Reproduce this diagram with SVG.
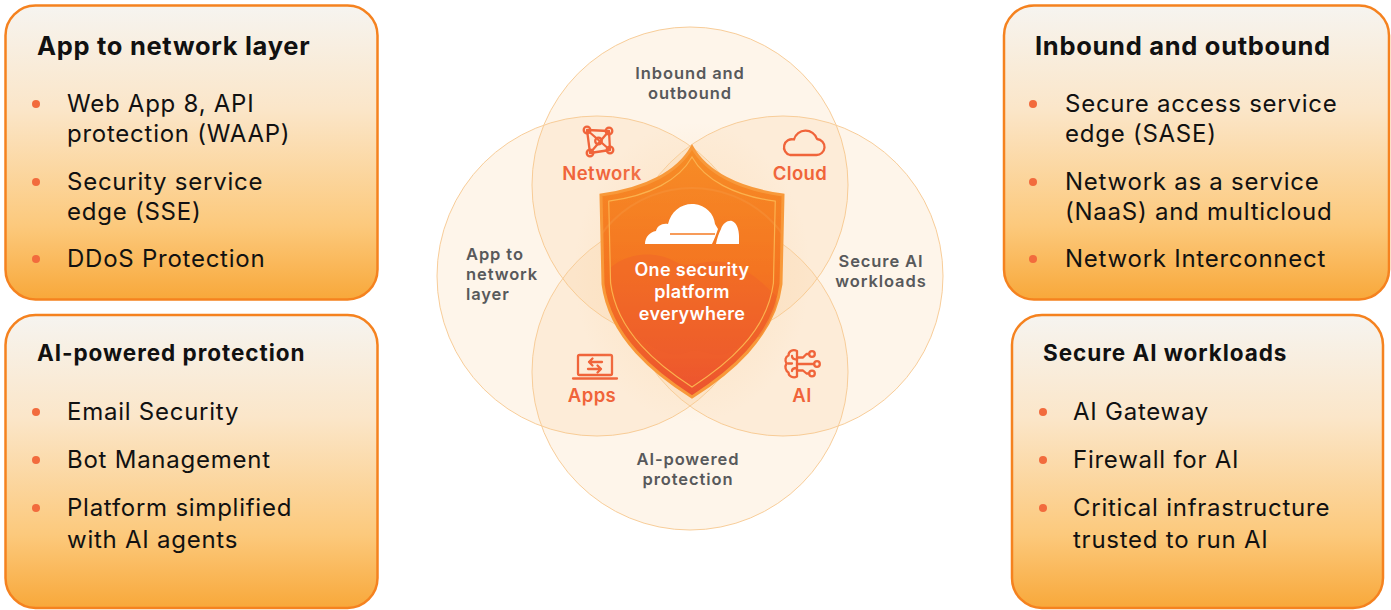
<svg xmlns="http://www.w3.org/2000/svg" width="1391" height="610" viewBox="0 0 1391 610">
  <defs>
    <linearGradient id="cardFill" x1="0" y1="0" x2="0" y2="1">
      <stop offset="0" stop-color="#f6f4f0"/>
      <stop offset="0.35" stop-color="#fbe6c9"/>
      <stop offset="0.75" stop-color="#fcc97c"/>
      <stop offset="1" stop-color="#f8a83a"/>
    </linearGradient>
    <linearGradient id="shieldFill" x1="0" y1="0" x2="0" y2="1">
      <stop offset="0" stop-color="#f78d26"/>
      <stop offset="0.5" stop-color="#f47522"/>
      <stop offset="1" stop-color="#ec5330"/>
    </linearGradient>
    <radialGradient id="glow" cx="0.5" cy="0.5" r="0.5">
      <stop offset="0" stop-color="#fbd6a8" stop-opacity="0.9"/>
      <stop offset="1" stop-color="#fbd6a8" stop-opacity="0"/>
    </radialGradient>
    <clipPath id="shieldClip">
      <path d="M692,147 C678,172 646,189 601,195 L603,284 C610,338 656,374 692,397 C728,374 774,338 781,284 L783,195 C738,189 706,172 692,147 Z"/>
    </clipPath>
    <style>
      .card { fill: url(#cardFill); stroke: #f5821f; stroke-width: 2.5; }
      .title { font-family: Inter, "Liberation Sans", sans-serif; font-weight: 700; fill: #111111; }
      .t-lg { font-size: 25.5px; letter-spacing: 0.7px; }
      .t-sm { font-size: 22.5px; letter-spacing: 0.95px; }
      .item { font-family: Inter, "Liberation Sans", sans-serif; font-weight: 400; font-size: 24px; letter-spacing: 0.75px; fill: #111111; }
      .dot { fill: #f26b3d; }
      .ring { fill: #f9c88a; fill-opacity: 0.18; stroke: #f8cd99; stroke-width: 1; }
      .zone { font-family: Inter, "Liberation Sans", sans-serif; font-weight: 600; font-size: 16.5px; letter-spacing: 0.9px; fill: #58595b; }
      .tag { font-family: Inter, "Liberation Sans", sans-serif; font-weight: 600; font-size: 18.5px; letter-spacing: 0.4px; fill: #f0643a; text-anchor: middle; }
      .ico { fill: none; stroke: #f0643a; stroke-width: 2.3; stroke-linecap: round; stroke-linejoin: round; }
      .core { font-family: Inter, "Liberation Sans", sans-serif; font-weight: 600; font-size: 18px; letter-spacing: 0.3px; fill: #ffffff; text-anchor: middle; }
    </style>
  </defs>

  <rect width="1391" height="610" fill="#ffffff"/>

  <!-- Left cards -->
  <g id="card-app-network">
    <rect class="card" x="5.5" y="5.5" width="372" height="294" rx="30"/>
    <text class="title t-lg" x="37" y="55">App to network layer</text>
    <circle class="dot" cx="36" cy="104" r="4"/>
    <text class="item" x="67" y="112">Web App 8, API</text>
    <text class="item" x="67" y="142">protection (WAAP)</text>
    <circle class="dot" cx="36" cy="182" r="4"/>
    <text class="item" x="67" y="190">Security service</text>
    <text class="item" x="67" y="220">edge (SSE)</text>
    <circle class="dot" cx="36" cy="259" r="4"/>
    <text class="item" x="67" y="267">DDoS Protection</text>
  </g>

  <g id="card-ai-protection">
    <rect class="card" x="5.5" y="315" width="372" height="293" rx="30"/>
    <text class="title t-sm" x="37" y="361">AI-powered protection</text>
    <circle class="dot" cx="36" cy="412" r="4"/>
    <text class="item" x="67" y="420">Email Security</text>
    <circle class="dot" cx="36" cy="460" r="4"/>
    <text class="item" x="67" y="468">Bot Management</text>
    <circle class="dot" cx="36" cy="508" r="4"/>
    <text class="item" x="67" y="516">Platform simplified</text>
    <text class="item" x="67" y="548">with AI agents</text>
  </g>

  <!-- Right cards -->
  <g id="card-inbound-outbound">
    <rect class="card" x="1004" y="5.5" width="385" height="294" rx="30"/>
    <text class="title t-lg" x="1035" y="55">Inbound and outbound</text>
    <circle class="dot" cx="1033" cy="104" r="4"/>
    <text class="item" x="1065" y="112">Secure access service</text>
    <text class="item" x="1065" y="142">edge (SASE)</text>
    <circle class="dot" cx="1033" cy="182" r="4"/>
    <text class="item" x="1065" y="190">Network as a service</text>
    <text class="item" x="1065" y="220">(NaaS) and multicloud</text>
    <circle class="dot" cx="1033" cy="259" r="4"/>
    <text class="item" x="1065" y="267">Network Interconnect</text>
  </g>

  <g id="card-ai-workloads">
    <rect class="card" x="1012" y="315" width="371" height="293" rx="30"/>
    <text class="title t-sm" x="1043" y="361">Secure AI workloads</text>
    <circle class="dot" cx="1043" cy="412" r="4"/>
    <text class="item" x="1073" y="420">AI Gateway</text>
    <circle class="dot" cx="1043" cy="460" r="4"/>
    <text class="item" x="1073" y="468">Firewall for AI</text>
    <circle class="dot" cx="1043" cy="508" r="4"/>
    <text class="item" x="1073" y="516">Critical infrastructure</text>
    <text class="item" x="1073" y="548">trusted to run AI</text>
  </g>

  <!-- Overlapping rings -->
  <g id="rings">
    <circle class="ring" cx="690" cy="185" r="158"/>
    <circle class="ring" cx="597" cy="276" r="160"/>
    <circle class="ring" cx="783" cy="276" r="160"/>
    <circle class="ring" cx="690" cy="372" r="158"/>
  </g>

  <g id="ring-labels">
    <text class="zone" text-anchor="middle"><tspan x="690" y="79">Inbound and</tspan><tspan x="690" y="99">outbound</tspan></text>
    <text class="zone"><tspan x="466" y="260">App to</tspan><tspan x="466" y="280">network</tspan><tspan x="466" y="300">layer</tspan></text>
    <text class="zone" text-anchor="middle"><tspan x="881" y="267">Secure AI</tspan><tspan x="881" y="287">workloads</tspan></text>
    <text class="zone" text-anchor="middle"><tspan x="688" y="465">AI-powered</tspan><tspan x="688" y="485">protection</tspan></text>
  </g>

  <!-- Network -->
  <g id="node-network">
    <path class="ico" d="M587,130 L609,131 L610,150 L590,153 Z M587,130 L610,150 M609,131 L590,153"/>
    <circle class="ico" cx="587" cy="130" r="3.3" fill="#fdf0e0"/>
    <circle class="ico" cx="609" cy="131" r="3.3" fill="#fdf0e0"/>
    <circle class="ico" cx="598.5" cy="141" r="3.3" fill="#fdf0e0"/>
    <circle class="ico" cx="590" cy="153" r="3.3" fill="#fdf0e0"/>
    <circle class="ico" cx="610" cy="150" r="3.3" fill="#fdf0e0"/>
    <text class="tag" x="602" y="180">Network</text>
  </g>

  <!-- Cloud -->
  <g id="node-cloud">
    <path class="ico" d="M790,155 H816 A8,8 0 0 0 817,139 A12,12 0 0 0 794,139.5 A8,8 0 0 0 790,155 Z"/>
    <text class="tag" x="800" y="180">Cloud</text>
  </g>

  <!-- Apps -->
  <g id="node-apps">
    <rect class="ico" x="578" y="355" width="34" height="20" rx="1.5"/>
    <path class="ico" d="M573,378.5 H617"/>
    <path class="ico" d="M602,362 H589 M592.5,358.5 L589,362 L592.5,365.5"/>
    <path class="ico" d="M588,369 H601 M597.5,365.5 L601,369 L597.5,372.5"/>
    <text class="tag" x="592" y="402">Apps</text>
  </g>

  <!-- AI -->
  <g id="node-ai">
    <path class="ico" d="M797,351 C793,349 788.5,351 788.5,355.5 C785.5,356.5 784.5,360.5 786.5,363.5 C784.5,366.5 785.5,371 788.5,372.5 C788.5,376.5 793.5,378.5 797,376.5 Z"/>
    <path class="ico" d="M788,363.5 H792 M792,356 C792,358.5 794,359.5 797,359.5 M792,371 C792,369 794,368 797,368"/>
    <path class="ico" d="M797,357.5 H803 L806.5,354 H809 M797,364 H814 M797,370.5 H803 L806.5,373.5 H809"/>
    <circle class="ico" cx="812" cy="354" r="2.8"/>
    <circle class="ico" cx="817" cy="364" r="2.8"/>
    <circle class="ico" cx="812" cy="373.5" r="2.8"/>
    <text class="tag" x="802" y="402">AI</text>
  </g>

  <!-- Central shield -->
  <g id="node-platform">
    <ellipse cx="692" cy="272" rx="118" ry="150" fill="url(#glow)" opacity="0.6"/>
    <path d="M692,147 C678,172 646,189 601,195 L603,284 C610,338 656,374 692,397 C728,374 774,338 781,284 L783,195 C738,189 706,172 692,147 Z" fill="url(#shieldFill)" stroke="#f8993a" stroke-width="3"/>
    <g clip-path="url(#shieldClip)" opacity="0.35">
      <circle cx="692" cy="300" r="112" fill="none" stroke="#f59a45" stroke-width="2"/>
      <path d="M610,268 C630,250 660,252 676,262 C690,270 705,258 724,262 C744,266 760,280 776,296 L781,340 C760,332 744,340 730,352 C712,360 700,346 688,352 C670,360 650,346 636,336 C624,326 612,300 610,268 Z" fill="#ee5c2b"/>
    </g>
    <path d="M692,147 C678,172 646,189 601,195 L603,284 C610,338 656,374 692,397 C728,374 774,338 781,284 L783,195 C738,189 706,172 692,147 Z" transform="translate(692 272) scale(0.915 0.92) translate(-692 -272)" fill="none" stroke="#fbb24e" stroke-width="1.3"/>
    <!-- white cloud mark -->
    <g transform="translate(645 202)">
      <path d="M0,42 C0,35 5,30 11,29 C12,24 17,21 23,22 C26,9 37,1 49,2 C61,3 69,12 70,22 L73,27 C71,33 69,38 67,42 Z" fill="#ffffff"/>
      <path d="M71,42 C72,36 74,31 76,27 C78,21 83,18 87,19 C92,21 94,28 94,34 L94,42 Z" fill="#ffffff"/>
      <path d="M25,32 H70" stroke="#f47a22" stroke-width="1.6"/>
    </g>
    <text class="core"><tspan x="692" y="276">One security</tspan><tspan x="692" y="298">platform</tspan><tspan x="692" y="320">everywhere</tspan></text>
  </g>
</svg>
